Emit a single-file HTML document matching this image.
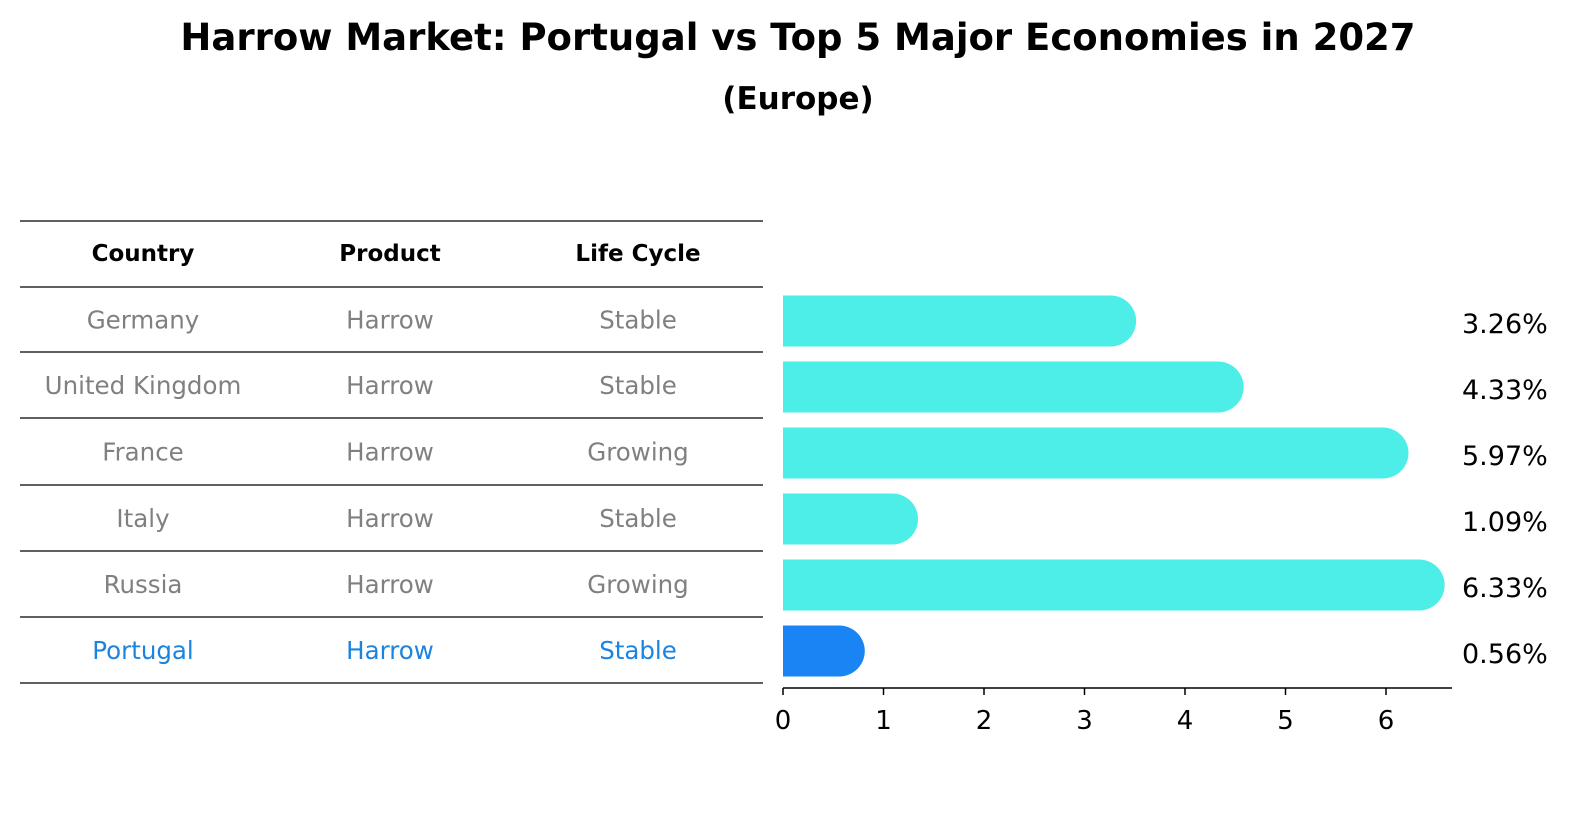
<!DOCTYPE html>
<html><head><meta charset="utf-8"><style>
body{margin:0;width:1586px;height:823px;background:#fff;font-family:"Liberation Sans","DejaVu Sans",sans-serif;overflow:hidden}
</style></head><body>
<svg width="1586" height="823" font-family="DejaVu Sans, Liberation Sans, sans-serif">
<text x="798" y="50" text-anchor="middle" font-size="37" font-weight="bold">Harrow Market: Portugal vs Top 5 Major Economies in 2027</text>
<text x="798" y="109" text-anchor="middle" font-size="31" font-weight="bold">(Europe)</text>
<g id="table"></g>
<g id="bars"></g>
</svg>
<script>
const countries=["Germany","United Kingdom","France","Italy","Russia","Portugal"];
const products=["Harrow","Harrow","Harrow","Harrow","Harrow","Harrow"];
const lifecycle=["Stable","Stable","Growing","Stable","Growing","Stable"];
const values=[3.26,4.33,5.97,1.09,6.33,0.56];
const ticks=[0,1,2,3,4,5,6];
const NS="http://www.w3.org/2000/svg";
function mk(t,a,p){const e=document.createElementNS(NS,t);for(const k in a)e.setAttribute(k,a[k]);p.appendChild(e);return e;}
const x0=783,ppu=100.5;
const xs=v=>x0+v*ppu;
const rowY=i=>321+i*66;
const tb=document.getElementById('table');
const lines=[221,287,352,418,485,551,617,683];
lines.forEach(y=>{const l=mk('line',{x1:20,x2:763,y1:y,y2:y,stroke:'#000','stroke-width':1.2},tb);

});
const colX=[143,390,638];
["Country","Product","Life Cycle"].forEach((h,j)=>{const t=mk('text',{x:colX[j],y:261,'text-anchor':'middle','font-size':23,'font-weight':'bold'},tb);t.textContent=h;

});
countries.forEach((c,i)=>{const col=i==5?'#1a84e0':'#808080';const y=(lines[i+1]+lines[i+2])/2+9;
[c,products[i],lifecycle[i]].forEach((v,j)=>{const t=mk('text',{x:colX[j],y:y,'text-anchor':'middle','font-size':24.5,fill:col},tb);t.textContent=v;

});});
const bg=document.getElementById('bars');
const h=51,r=25.5;
values.forEach((v,i)=>{const cy=rowY(i);const col=i==5?'#1a84f5':'#4deee8';
const p=mk('path',{d:`M${x0},${cy-h/2} H${xs(v)} A${r},${h/2} 0 0 1 ${xs(v)},${cy+h/2} H${x0} Z`,fill:col},bg);


const t=mk('text',{x:1462,y:cy+12,'font-size':27},bg);t.textContent=v.toFixed(2)+'%';

});
const ax=mk('line',{x1:x0,x2:1452,y1:688,y2:688,stroke:'#000','stroke-width':1.5},bg);


ticks.forEach(v=>{const tk=mk('line',{x1:xs(v),x2:xs(v),y1:688,y2:695,stroke:'#000','stroke-width':1.5},bg);


const t=mk('text',{x:xs(v),y:729,'text-anchor':'middle','font-size':26},bg);t.textContent=v;

});
</script>
</body></html>
